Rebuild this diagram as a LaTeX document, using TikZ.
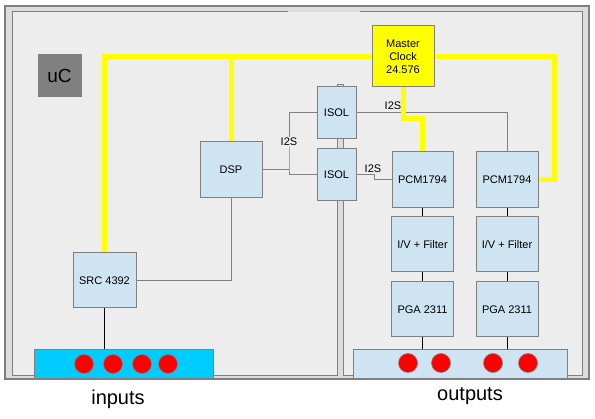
\documentclass[tikz,border=0pt]{standalone}
\usepackage{fontspec}
\setmainfont{Liberation Sans}
\usetikzlibrary{positioning}
\definecolor{boxblue}{RGB}{207,228,242}
\definecolor{wallgray}{RGB}{220,220,220}
\definecolor{roomgray}{RGB}{237,237,237}
\definecolor{edgegray}{RGB}{128,128,128}
\definecolor{clockyellow}{RGB}{255,255,0}
\definecolor{jackred}{RGB}{255,0,0}
\definecolor{barcyan}{RGB}{0,204,255}

\tikzset{
  chip/.style={draw=edgegray, fill=boxblue, line width=1pt, minimum width=62pt, minimum height=56pt, inner sep=0pt, font=\fontsize{11}{13}\selectfont, align=center},
  wire/.style={draw=edgegray, line width=1pt},
  clkline/.style={draw=clockyellow, line width=5pt},
  sigline/.style={draw=black, line width=1pt},
  jack/.style={circle, fill=jackred, draw=edgegray, line width=0.6pt, minimum size=19pt, inner sep=0pt},
  i2slabel/.style={fill=roomgray, inner sep=1pt, font=\fontsize{11}{13}\selectfont},
}

\begin{document}
\begin{tikzpicture}[x=1pt, y=-1pt]
    \useasboundingbox (0,0) rectangle (595,419);

    % Gehaeuse
    \fill[wallgray, draw=edgegray, line width=1.2pt] (5,6) rectangle (589,379);
    \fill[roomgray] (12,12) -- (582,12) -- (582,376) -- (343,376) -- (343,85) -- (337,85) -- (337,376) -- (12,376) -- cycle;
    \draw[edgegray, line width=1pt] (288,12) -- (12,12) -- (12,376) -- (337,376) -- (337,85) -- (343,85) -- (343,376) -- (582,376) -- (582,12) -- (360,12);

    % Bausteine
    \node[chip, minimum width=43pt, minimum height=42pt, fill=edgegray, font=\fontsize{19}{21}\selectfont] (uc) at (59.5,76) {uC};
    \node[chip, minimum height=61pt, fill=clockyellow] (clock) at (403,56.5) {Master\\Clock\\24.576};
    \node[chip] (dsp) at (231,170) {DSP};
    \node[chip, minimum width=63pt, minimum height=55pt] (src) at (104.5,280.5) {SRC 4392};
    \node[chip, minimum width=39pt, minimum height=52pt] (isola) at (336.5,113) {ISOL};
    \node[chip, minimum width=39pt, minimum height=52pt] (isolb) at (336.5,175) {ISOL};

    \node[chip, minimum width=61pt] (pcma) at (422.5,180) {PCM1794};
    \node[chip, minimum height=55pt] (iva) at (422.5,244.5) {I/V + Filter};
    \node[chip, minimum height=55pt] (pgaa) at (422.5,309.5) {PGA 2311};
    \node[chip] (pcmb) at (507,180) {PCM1794};
    \node[chip, minimum height=55pt] (ivb) at (507,244.5) {I/V + Filter};
    \node[chip, minimum height=55pt] (pgab) at (507,309.5) {PGA 2311};

    % Buchsenleisten
    \node[chip, minimum width=179pt, minimum height=29pt, fill=barcyan] (inbar) at (123.5,364.5) {};
    \node[chip, minimum width=214pt, minimum height=29pt] (outbar) at (460,364.5) {};
    \foreach \x [count=\i] in {84,113,142,168}
        \node[jack] (in\i) at (\x,364) {};
    \foreach \x [count=\i] in {408,441,493,528}
        \node[jack] (out\i) at (\x,363) {};
    \node[font=\fontsize{20}{24}\selectfont] (inlabel) at (118,399) {inputs};
    \node[font=\fontsize{20}{24}\selectfont] (outlabel) at (470,396) {outputs};

    % I2S Verbindungen
    \coordinate (isplit) at (289,170);
    \coordinate (ijog) at (374,175);
    \draw[wire] (dsp.south) |- (src.east);
    \draw[wire] (dsp.east) -- (isplit);
    \draw[wire] (isola.west) -| (isplit) |- (isolb.west);
    \draw[wire] (isola.east) -| (pcmb.north);
    \draw[wire] (isolb.east) -- (ijog) |- (pcma.west);
    \node[i2slabel] (i2sa) at (289,142) {I2S};
    \node[i2slabel] (i2sb) at (393,106) {I2S};
    \node[i2slabel] (i2sc) at (373,169) {I2S};

    % Takt
    \coordinate (ycorner) at (554,56.5);
    \coordinate (yjog) at (403,119);
    \draw[clkline] (src.north) |- (clock.west);
    \draw[clkline] (dsp.north) -- (dsp.north |- clock.west);
    \draw[clkline] (clock.east) -- (ycorner) |- (pcmb.east);
    \draw[clkline] (clock.south) -- (yjog) -| (pcma.north);

    % Analogpfad
    \draw[sigline] (src.south) -- (src.south |- inbar.north);
    \draw[sigline] (pcma.south) -- (iva.north);
    \draw[sigline] (iva.south) -- (pgaa.north);
    \draw[sigline] (pgaa.south) -- (pgaa.south |- outbar.north);
    \draw[sigline] (pcmb.south) -- (ivb.north);
    \draw[sigline] (ivb.south) -- (pgab.north);
    \draw[sigline] (pgab.south) -- (pgab.south |- outbar.north);
\end{tikzpicture}
\end{document}
